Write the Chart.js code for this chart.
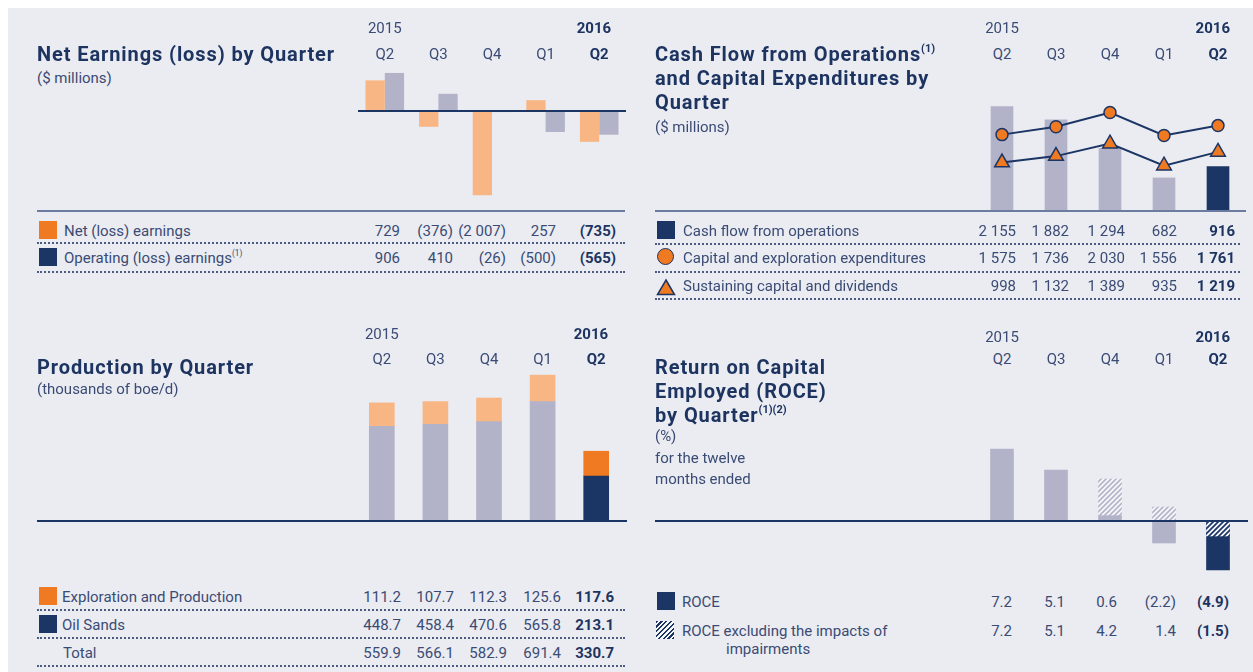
<!DOCTYPE html>
<html><head><meta charset="utf-8">
<script src="https://cdn.jsdelivr.net/npm/chart.js@4.4.1/dist/chart.umd.min.js"></script>
<style>
html,body{margin:0;padding:0;width:1253px;height:672px;overflow:hidden;background:#fff;}
#root{position:absolute;left:0;top:0;width:1253px;height:672px;}
#bg{position:absolute;left:8px;top:8px;width:1245px;height:664px;background:#ebecf2;}
.t{position:absolute;white-space:pre;font-family:Roboto,"Open Sans",sans-serif;line-height:20px;}
.t sup{font-size:0.55em;vertical-align:top;line-height:normal;letter-spacing:0;}
.r{position:absolute;}
canvas{position:absolute;}
</style>
</head><body>
<div id="root"><div id="bg"></div></div>
<script>
// ---------- data ----------
const years = ['2015', '', '', '', '2016'];
const quarters = ['Q2', 'Q3', 'Q4', 'Q1', 'Q2'];

const netEarnings = [729, -376, -2007, 257, -735];
const operatingEarnings = [906, 410, -26, -500, -565];

const cashFlowOps = [2155, 1882, 1294, 682, 916];
const capexExploration = [1575, 1736, 2030, 1556, 1761];
const sustainingCapDiv = [998, 1132, 1389, 935, 1219];

const prodExploration = [111.2, 107.7, 112.3, 125.6, 117.6];
const prodOilSands = [448.7, 458.4, 470.6, 565.8, 213.1];
const prodTotal = [559.9, 566.1, 582.9, 691.4, 330.7];

const roce = [7.2, 5.1, 0.6, -2.2, -4.9];
const roceExImpairments = [7.2, 5.1, 4.2, 1.4, -1.5];

// ---------- style ----------
const C = {navy:'#1b3564', title:'#1d3461', text:'#3a4b74', grey:'#b2b3c8',
  lorange:'#f7b684', orange:'#f07a22', rule:'#6b7ca0', dot:'#4b5b82'};
const root = document.getElementById('root');
const LAST = quarters.length - 1;
const LBL = 15, VAL = 15, HDR = 15, TTL = 20;

// y = centre of first line, lh = line height
function txt(x, y, html, o = {}) {
  const d = document.createElement('div');
  d.className = 't';
  const size = o.size || LBL;
  const lh = o.lh || 20;
  d.style.fontSize = size + 'px';
  d.style.lineHeight = lh + 'px';
  d.style.fontWeight = o.weight || 400;
  d.style.color = o.color || C.text;
  if (o.ls) d.style.letterSpacing = o.ls + 'px';
  d.style.top = (y + 1 - lh / 2) + 'px';
  if (o.align === 'right') { d.style.left = (x - 300) + 'px'; d.style.width = '300px'; d.style.textAlign = 'right'; }
  else if (o.align === 'center') { d.style.left = (x - 150) + 'px'; d.style.width = '300px'; d.style.textAlign = 'center'; }
  else d.style.left = x + 'px';
  d.innerHTML = html;
  root.appendChild(d);
  return d;
}
function box(x, y, w, h, css) {
  const d = document.createElement('div');
  d.className = 'r';
  d.style.cssText = `position:absolute;left:${x}px;top:${y}px;width:${w}px;height:${h}px;` + css;
  root.appendChild(d);
  return d;
}
function dotted(x1, x2, y) { box(x1, y, x2 - x1, 0, `border-top:2px dotted ${C.dot};`); }
function rule(x1, x2, y, color) { box(x1, y - 1, x2 - x1, 2, `background:${color};`); }
function fmt(v, dec) {
  let s = Math.abs(v).toFixed(dec);
  let [i, f] = s.split('.');
  i = i.replace(/\B(?=(\d{3})+(?!\d))/g, ' ');
  s = f !== undefined ? i + '.' + f : i;
  return v < 0 ? '(' + s + ')' : s;
}
function valuesRow(values, dec, rights, y) {
  values.forEach((v, i) => {
    const last = i === LAST;
    txt(rights[i], y, fmt(v, dec), {size:VAL, align:'right', weight: last ? 700 : 400, color: last ? C.title : C.text});
  });
}
function mkCanvas(left, top, w, h) {
  const c = document.createElement('canvas');
  c.width = w; c.height = h;
  c.style.left = left + 'px'; c.style.top = top + 'px';
  c.style.width = w + 'px'; c.style.height = h + 'px';
  root.appendChild(c);
  return c;
}
function opts(min, max, stacked) {
  return {
    responsive:false, maintainAspectRatio:false, animation:false, devicePixelRatio:1,
    layout:{padding:0, autoPadding:false},
    plugins:{legend:{display:false}, tooltip:{enabled:false}},
    scales:{
      x:{display:false, stacked:!!stacked},
      y:{display:false, min, max, stacked:!!stacked}
    }
  };
}
function headers(chart, left, yYear, yQ) {
  const xs = chart.scales.x;
  quarters.forEach((q, i) => {
    const cx = left + xs.getPixelForValue(i);
    const last = i === LAST;
    const st = {size:HDR, align:'center', weight: last ? 700 : 400, color: last ? C.title : C.text};
    txt(cx, yQ, q, st);
    if (years[i]) {
      if (last) txt(cx + 12, yYear, years[i], {size:HDR, align:'right', weight:700, color:C.title});
      else txt(cx, yYear, years[i], st);
    }
  });
}
const zeroLine = {
  id:'zeroLine',
  afterDatasetsDraw(chart) {
    const {ctx, chartArea:a, scales:{y}} = chart;
    const py = Math.round(y.getPixelForValue(0));
    ctx.save(); ctx.strokeStyle = C.navy; ctx.lineWidth = 2;
    ctx.beginPath(); ctx.moveTo(a.left, py); ctx.lineTo(a.right, py); ctx.stroke(); ctx.restore();
  }
};
const hiColors = (base, hi) => quarters.map((q, i) => i === LAST ? hi : base);
function hatch(stripe, bg) {
  const p = document.createElement('canvas'); p.width = 5; p.height = 5;
  const g = p.getContext('2d');
  g.fillStyle = bg; g.fillRect(0, 0, 5, 5);
  g.strokeStyle = stripe; g.lineWidth = 1.7; g.beginPath();
  g.moveTo(-1, 6); g.lineTo(6, -1);
  g.moveTo(-1, 1); g.lineTo(1, -1);
  g.moveTo(4, 6); g.lineTo(6, 4);
  g.stroke();
  return g.createPattern(p, 'repeat');
}
const titleStyle = {size:TTL, weight:700, color:C.title, lh:24, ls:0.9};

// ================= Panel 1: Net earnings =================
{
  const L = 358, T = 60;
  const ch = new Chart(mkCanvas(L, T, 268, 140), {
    type:'bar',
    data:{labels:quarters, datasets:[
      {data:netEarnings, backgroundColor:C.lorange, categoryPercentage:0.72, barPercentage:1},
      {data:operatingEarnings, backgroundColor:C.grey, categoryPercentage:0.72, barPercentage:1}
    ]},
    options:opts(-2119, 1214),
    plugins:[zeroLine]
  });
  headers(ch, L, 27, 53);
  txt(37, 53, 'Net Earnings (loss) by Quarter', titleStyle);
  txt(37, 77, '($ millions)');
  rule(37, 625, 211, C.rule);
  const R = [400, 453, 506, 556, 616];
  box(39, 221, 18, 18, `background:${C.orange};`);
  txt(64, 230, 'Net (loss) earnings');
  valuesRow(netEarnings, 0, R, 230);
  dotted(37, 625, 242);
  box(39, 248, 18, 18, `background:${C.navy};`);
  txt(64, 257, 'Operating (loss) earnings<sup>(1)</sup>');
  valuesRow(operatingEarnings, 0, R, 257);
  dotted(37, 625, 271);
}

// ================= Panel 2: Cash flow =================
{
  const L = 975, T = 90;
  const ch = new Chart(mkCanvas(L, T, 270, 121), {
    type:'bar',
    data:{labels:quarters, datasets:[
      {type:'line', data:capexExploration, order:0, borderColor:C.navy, borderWidth:2, tension:0,
       pointStyle:'circle', pointRadius:6, pointBackgroundColor:C.orange, pointBorderColor:C.navy, pointBorderWidth:1.5, clip:false},
      {type:'line', data:sustainingCapDiv, order:0, borderColor:C.navy, borderWidth:2, tension:0,
       pointStyle:'triangle', pointRadius:8.5, pointBackgroundColor:C.orange, pointBorderColor:C.navy, pointBorderWidth:1.5, clip:false},
      {type:'bar', data:cashFlowOps, order:1, backgroundColor:hiColors(C.grey, C.navy), barThickness:22}
    ]},
    options:opts(0, 2495)
  });
  headers(ch, L, 27, 53);
  txt(655, 53, 'Cash Flow from Operations<sup>(1)</sup><br>and Capital Expenditures by<br>Quarter', titleStyle);
  txt(655, 126, '($ millions)');
  rule(655, 1246, 211, C.rule);
  const R = [1016, 1069, 1125, 1177, 1235];
  box(657, 221, 18, 18, `background:${C.navy};`);
  txt(683, 230, 'Cash flow from operations');
  valuesRow(cashFlowOps, 0, R, 230);
  dotted(655, 1240, 243);
  box(657, 248, 15, 15, `background:${C.orange};border:1.5px solid ${C.navy};border-radius:50%;`);
  txt(683, 257, 'Capital and exploration expenditures');
  valuesRow(capexExploration, 0, R, 257);
  dotted(655, 1240, 271);
  const tri = box(656, 278, 20, 18, '');
  tri.innerHTML = `<svg width="20" height="18"><polygon points="10,2 18.5,16.5 1.5,16.5" fill="${C.orange}" stroke="${C.navy}" stroke-width="1.5"/></svg>`;
  txt(683, 285, 'Sustaining capital and dividends');
  valuesRow(sustainingCapDiv, 0, R, 285);
  dotted(655, 1240, 298);
}

// ================= Panel 3: Production =================
{
  const L = 355, T = 360;
  const ch = new Chart(mkCanvas(L, T, 268, 161), {
    type:'bar',
    data:{labels:quarters, datasets:[
      {data:prodOilSands, backgroundColor:hiColors(C.grey, C.navy), barThickness:25},
      {data:prodExploration, backgroundColor:hiColors(C.lorange, C.orange), barThickness:25}
    ]},
    options:opts(0, 763, true)
  });
  headers(ch, L, 333, 358);
  txt(37, 366, 'Production by Quarter', titleStyle);
  txt(37, 388, '(thousands of boe/d)');
  rule(37, 627, 521, C.navy);
  const R = [401, 454, 507, 561, 614];
  box(39, 587, 18, 18, `background:${C.orange};`);
  txt(62, 596, 'Exploration and Production');
  valuesRow(prodExploration, 1, R, 596);
  dotted(37, 625, 609);
  box(39, 615, 18, 18, `background:${C.navy};`);
  txt(62, 624, 'Oil Sands');
  valuesRow(prodOilSands, 1, R, 624);
  dotted(37, 625, 637);
  txt(63, 652, 'Total');
  valuesRow(prodTotal, 1, R, 652);
  dotted(37, 625, 665);
}

// ================= Panel 4: ROCE =================
{
  const L = 975, T = 430;
  const hatchData = roceExImpairments.map((e, i) =>
    e === roce[i] ? null : (roce[i] > 0 && e > roce[i] ? [roce[i], e] : [0, e]));
  const hatchFill = quarters.map((q, i) => i === LAST ? hatch(C.navy, '#f7f7fa') : hatch('#b4b5c9', '#f7f7fa'));
  const ch = new Chart(mkCanvas(L, T, 270, 150), {
    type:'bar',
    data:{labels:quarters, datasets:[
      {data:hatchData, order:0, grouped:false, backgroundColor:hatchFill, barThickness:23},
      {data:roce, order:1, grouped:false, backgroundColor:hiColors(C.grey, C.navy), barThickness:23}
    ]},
    options:opts(-5.9, 9.1)
  });
  headers(ch, L, 336, 358);
  txt(655, 366, 'Return on Capital<br>Employed (ROCE)<br>by Quarter<sup>(1)(2)</sup>', titleStyle);
  txt(655, 436, '(%)<br>for the twelve<br>months ended', {lh:21.5});
  rule(655, 1248, 521, C.navy);
  const R = [1012, 1065, 1117, 1176, 1229];
  box(657, 592, 18, 18, `background:${C.navy};`);
  txt(682, 601, 'ROCE');
  valuesRow(roce, 1, R, 601);
  box(656, 621, 18, 18, `background:repeating-linear-gradient(-45deg, ${C.navy} 0 1.6px, #f7f7fa 1.6px 3.4px);`);
  txt(682, 630, 'ROCE excluding the impacts of<br><span style="padding-left:44px">impairments</span>', {lh:18});
  valuesRow(roceExImpairments, 1, R, 630);
}
</script>
</body></html>
